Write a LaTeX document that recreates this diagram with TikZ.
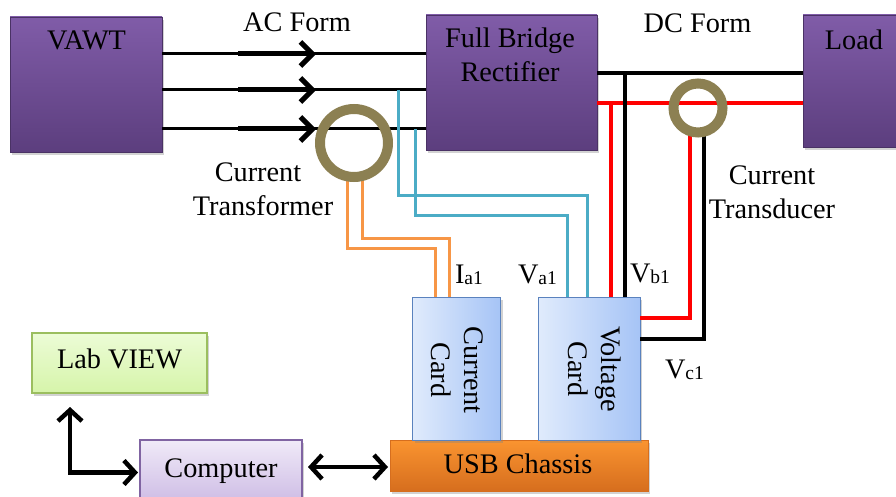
\documentclass[tikz,border=0pt]{standalone}
\usepackage{fontspec}
\setmainfont{Liberation Serif}
\usetikzlibrary{arrows.meta,shadows,calc}
\definecolor{purpT}{RGB}{128,92,168}
\definecolor{purpB}{RGB}{92,62,126}
\definecolor{ringc}{RGB}{140,128,82}
\definecolor{orw}{RGB}{247,150,70}
\definecolor{cyw}{RGB}{75,172,198}
\definecolor{cardL}{RGB}{224,235,252}
\definecolor{cardR}{RGB}{166,196,246}
\definecolor{cardE}{RGB}{90,130,190}
\definecolor{usbT}{RGB}{250,148,48}
\definecolor{usbB}{RGB}{214,110,30}
\definecolor{labT}{RGB}{236,252,214}
\definecolor{labB}{RGB}{214,244,170}
\definecolor{labE}{RGB}{155,190,95}
\definecolor{compT}{RGB}{240,234,248}
\definecolor{compB}{RGB}{204,186,228}
\definecolor{compE}{RGB}{128,100,162}
\newcommand\subsc[1]{{\fontsize{19.5}{19.5}\selectfont\raisebox{-1.5pt}{#1}}}
\tikzset{
  every node/.style={font=\rmfamily\fontsize{28.3}{33}\selectfont},
  box/.style={rectangle, inner sep=0pt, outer sep=0pt,
    drop shadow={shadow xshift=2pt, shadow yshift=-3pt, opacity=0.35}},
  purplebox/.style={box, top color=purpT, bottom color=purpB, draw=purpB!80!black, line width=0.6pt},
  cardbox/.style={box, left color=cardL, right color=cardR, draw=cardE, line width=1pt},
  usbbox/.style={box, top color=usbT, bottom color=usbB, draw=usbB, line width=0.6pt},
  labbox/.style={box, top color=labT, bottom color=labB, draw=labE, line width=1.2pt},
  compbox/.style={box, top color=compT, bottom color=compB, draw=compE, line width=1.2pt},
  ringnode/.style={circle, draw=ringc, inner sep=0pt, outer sep=0pt},
  lbl/.style={inner sep=0pt, outer sep=0pt, text=black},
  acline/.style={line width=3pt, black},
  acarrow/.style={line width=5pt, -{Straight Barb[length=12pt,width=24pt]}},
  bigarr/.style={line width=4.5pt, black},
  dcline/.style={line width=4pt},
  orwire/.style={line width=3pt, orw},
  cywire/.style={line width=3pt, cyw},
}
\begin{document}
\begin{tikzpicture}[x=1pt,y=-1pt]
\useasboundingbox (0,0) rectangle (896,497);
\fill[white] (0,0) rectangle (896,497);

% boxes
\node[purplebox, minimum width=152pt, minimum height=135pt] (vawt) at (86,84.5) {};
\node[purplebox, minimum width=171pt, minimum height=135pt] (rect) at (511.5,82.5) {};
\node[purplebox, minimum width=107pt, minimum height=132pt] (load) at (856.5,81) {};
\node[labbox, minimum width=175pt, minimum height=60pt] (lab) at (119.5,363) {};
\node[compbox, minimum width=162pt, minimum height=65pt] (comp) at (221,472.5) {};
\node[usbbox, minimum width=258pt, minimum height=51pt] (usb) at (519,465.5) {};
\node[cardbox, minimum width=88pt, minimum height=143pt] (ccard) at (456.5,368.5) {};
\node[cardbox, minimum width=102pt, minimum height=143pt] (vcard) at (589,368.5) {};

% AC lines
\draw[acline] (vawt.east |- 0,54) -- (rect.west |- 0,54);
\draw[acline] (vawt.east |- 0,90) -- (rect.west |- 0,90);
\draw[acline] (vawt.east |- 0,129) -- (rect.west |- 0,129);
\draw[acarrow] (238,54) -- (316,54);
\draw[acarrow] (238,90) -- (316,90);
\draw[acarrow] (238,129) -- (316,129);

% cyan wires (voltage sensing)
\draw[cywire] (398,90) |- (587,195) -- (587,0 |- vcard.north);
\draw[cywire] (415,129) |- (567,215) -- (567,0 |- vcard.north);

% orange wires (current transformer)
\draw[orwire] (347,176) |- (435,248) -- (435,0 |- ccard.north);
\draw[orwire] (362,176) |- (449,238) -- (449,0 |- ccard.north);

% DC lines
\draw[dcline, red] (rect.east |- 0,103) -- (load.west |- 0,103);
\draw[dcline, black] (rect.east |- 0,73) -- (load.west |- 0,73);
\draw[dcline, red] (611,103) -- (611,0 |- vcard.north);
\draw[dcline, black] (625,73) -- (625,0 |- vcard.north);
\draw[dcline, red] (690,132) |- (vcard.east |- 0,318);
\draw[dcline, black] (704,132) |- (vcard.east |- 0,339);

% rings
\node[ringnode, minimum size=68pt, line width=10pt] (ct) at (354,143) {};
\node[ringnode, minimum size=49pt, line width=10pt] (ctd) at (698,108) {};

% PC arrows
\coordinate (lvtip) at (70,407);
\draw[bigarr, {Straight Barb[length=11pt,width=24pt]}-{Straight Barb[length=11pt,width=24pt]}] (lvtip) |- ([xshift=-2pt]comp.west);
\draw[bigarr, {Straight Barb[length=11pt,width=24pt]}-{Straight Barb[length=11pt,width=24pt]}] ($(comp.east |- 0,467)+(6,0)$) -- ($(usb.west |- 0,467)+(-2,0)$);

% texts
\node[lbl, anchor=base] (tvawt) at (86.5,50) {VAWT};
\node[lbl, anchor=base] (tac) at (297,32) {AC Form};
\node[lbl, anchor=base] (tdc) at (697.5,33) {DC Form};
\node[lbl, anchor=base] (tr1) at (510,48) {Full Bridge};
\node[lbl, anchor=base] (tr2) at (510,82) {Rectifier};
\node[lbl, anchor=base] (tload) at (854,50) {Load};
\node[lbl, anchor=base] (tct1) at (258,182) {Current};
\node[lbl, anchor=base] (tct2) at (263,215) {Transformer};
\node[lbl, anchor=base] (ttd1) at (772,185) {Current};
\node[lbl, anchor=base] (ttd2) at (772,218) {Transducer};
\node[lbl, anchor=base west] (tia) at (455,283) {I\subsc{a1}};
\node[lbl, anchor=base west] (tva) at (518,283) {V\subsc{a1}};
\node[lbl, anchor=base west] (tvb) at (630,282) {V\subsc{b1}};
\node[lbl, anchor=base west] (tvc) at (665,378) {V\subsc{c1}};
\node[lbl, anchor=base] (tlab) at (119.5,368) {Lab VIEW};
\node[lbl, anchor=base] (tcomp) at (221,477) {Computer};
\node[lbl, anchor=base] (tusb) at (518,473) {USB Chassis};
\node[lbl, rotate=-90, align=center] (tcc) at (457,370) {Current\\Card};
\node[lbl, rotate=-90, align=center] (tvc2) at (595,369) {Voltage\\Card};
\end{tikzpicture}
\end{document}
